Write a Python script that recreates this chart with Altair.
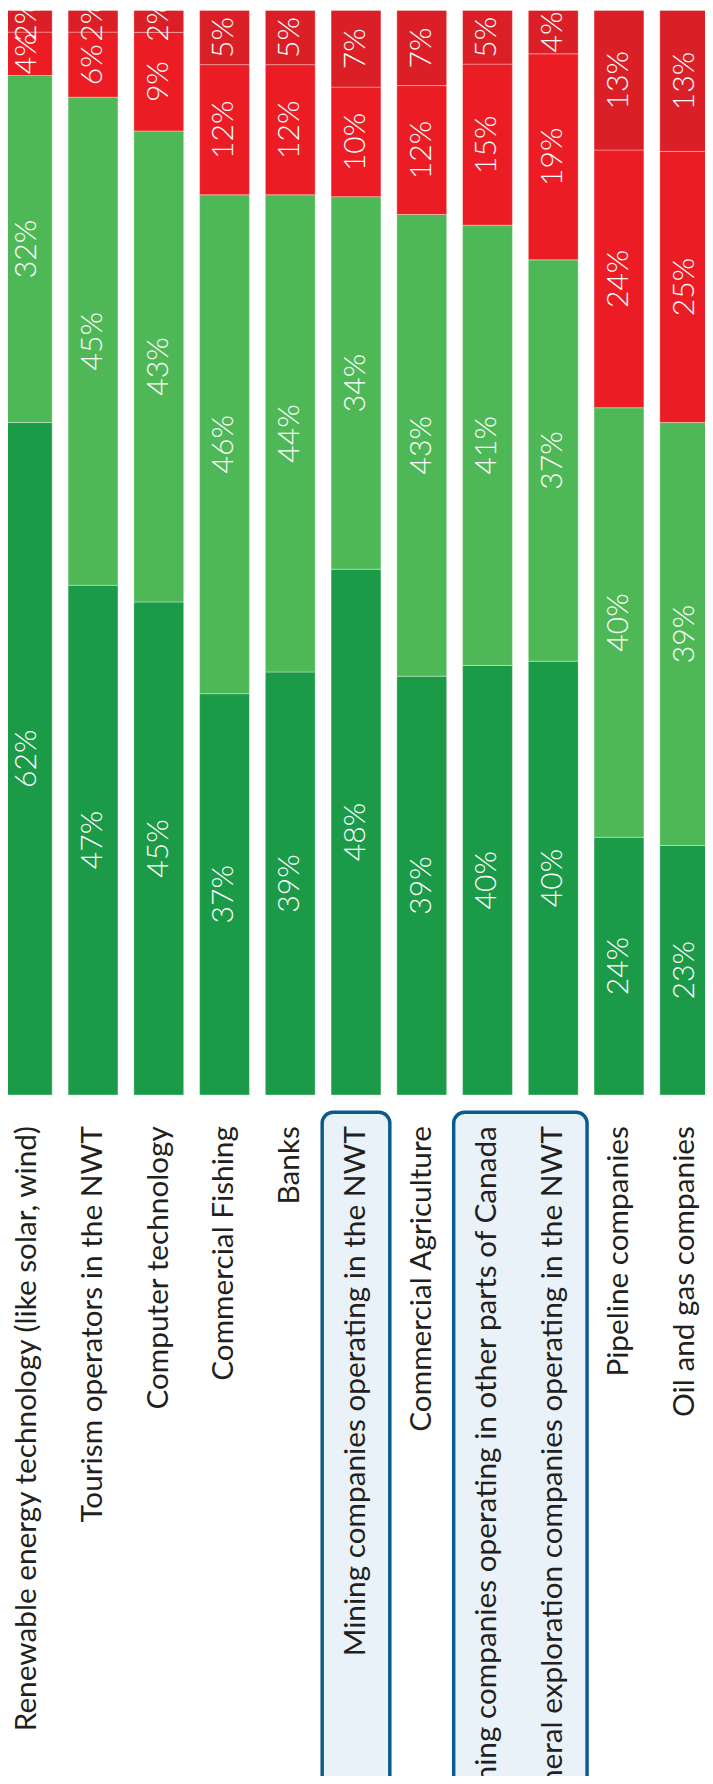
import altair as alt
import pandas as pd

categories = [
    "Renewable energy technology (like solar, wind)",
    "Tourism operators in the NWT",
    "Computer technology",
    "Commercial Fishing",
    "Banks",
    "Mining companies operating in the NWT",
    "Commercial Agriculture",
    "Mining companies operating in other parts of Canada",
    "Mineral exploration companies operating in the NWT",
    "Pipeline companies",
    "Oil and gas companies",
]
responses = ["Very positive", "Somewhat positive", "Somewhat negative", "Very negative"]
very_positive = [62, 47, 45, 37, 39, 48, 39, 40, 40, 24, 23]
somewhat_positive = [32, 45, 43, 46, 44, 34, 43, 41, 37, 40, 39]
somewhat_negative = [4, 6, 9, 12, 12, 10, 12, 15, 19, 24, 25]
very_negative = [2, 2, 2, 5, 5, 7, 7, 5, 4, 13, 13]
colors = ["#1b9a48", "#4eb857", "#ec1c24", "#da1f27"]

highlight_start = ["Mining companies operating in the NWT",
                   "Mining companies operating in other parts of Canada"]
highlight_end = ["Mining companies operating in the NWT",
                 "Mineral exploration companies operating in the NWT"]

series = [very_positive, somewhat_positive, somewhat_negative, very_negative]
rows = []
for i, cat in enumerate(categories):
    for k, resp in enumerate(responses):
        rows.append({"category": cat, "response": resp, "idx": k, "value": series[k][i]})
df = pd.DataFrame(rows)
box_df = pd.DataFrame({"start": highlight_start, "end": highlight_end})

xscale = alt.Scale(domain=categories, range=[-5.7, 709.7], paddingInner=0.242, paddingOuter=0)
yscale = alt.Scale(domain=[0, 1], range=[1089.3, -7.7])

x_axis = alt.Axis(
    title=None, labelAngle=270, labelAlign="right", labelBaseline="middle",
    labelPadding=31, labelFontSize=30.1, labelFont="Lato", labelColor="#231f20",
    labelLimit=0, domain=False, ticks=False, zindex=1,
)

boxes = alt.Chart(box_df).mark_rect(
    fill="#eaf2f9", stroke="#0b5a8e", strokeWidth=3.5, cornerRadius=11,
    xOffset=-9, x2Offset=9,
).encode(
    x=alt.X("start:N", scale=xscale, bandPosition=0, axis=x_axis),
    x2=alt.X2("end:N", bandPosition=1),
    y=alt.Y(datum=-0.016, type="quantitative", scale=yscale, axis=None),
    y2=alt.Y2(datum=-0.8),
)

bars = alt.Chart(df).mark_bar(
    stroke="white", strokeWidth=1, strokeOpacity=0.35,
).encode(
    x=alt.X("category:N", scale=xscale, axis=x_axis),
    y=alt.Y("value:Q", stack="normalize", scale=yscale, axis=None),
    color=alt.Color("response:N", scale=alt.Scale(domain=responses, range=colors), legend=None),
    order=alt.Order("idx:Q"),
)

text = alt.Chart(df).transform_stack(
    stack="value", groupby=["category"], as_=["y0", "y1"], offset="normalize",
    sort=[alt.SortField("idx")],
).transform_calculate(
    mid="(datum.y0 + datum.y1) / 2", label="datum.value + '%'",
).mark_text(
    angle=270, color="white", fontSize=30.5, font="Lato", fontWeight=300,
    align="center", baseline="middle",
).encode(
    x=alt.X("category:N", scale=xscale, axis=x_axis),
    y=alt.Y("mid:Q", scale=yscale, axis=None),
    text="label:N",
)

chart = alt.layer(boxes, bars, text).properties(
    width=705, height=1089.3,
    autosize=alt.AutoSizeParams(type="none"),
    padding={"left": 0, "top": 0, "right": 0, "bottom": 678.7},
).configure_view(stroke=None)

chart.save("out.html", embed_options={"renderer": "svg", "actions": False})
